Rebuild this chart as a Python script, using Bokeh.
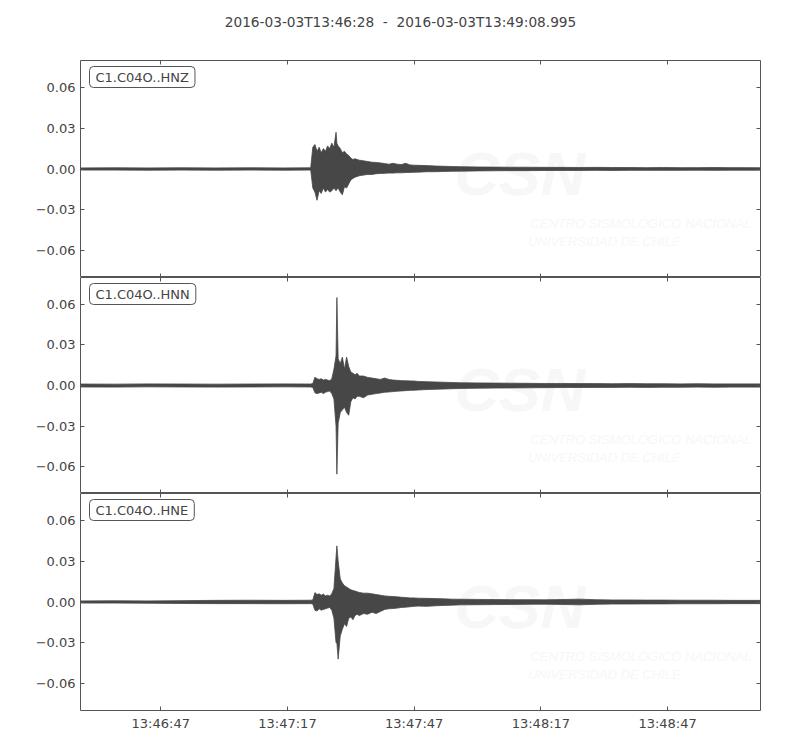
from bokeh.plotting import figure
from bokeh.layouts import column
from bokeh.models import Range1d, FixedTicker, LinearAxis, Label
from bokeh.embed import file_html
from bokeh.resources import INLINE

title_text = "2016-03-03T13:46:28  -  2016-03-03T13:49:08.995"
channels = ["C1.C04O..HNZ", "C1.C04O..HNN", "C1.C04O..HNE"]
duration = 160.995  # seconds after 13:46:28
x_tick_values = [19, 49, 79, 109, 139]
x_tick_labels = ["13:46:47", "13:47:17", "13:47:47", "13:48:17", "13:48:47"]
y_tick_values = [-0.06, -0.03, 0.0, 0.03, 0.06]
y_tick_labels = ["\u22120.06", "\u22120.03", "0.00", "0.03", "0.06"]
y_limit = 0.0798

# envelope sample times (s after start)
t_env = [0, 8, 16, 24, 32, 40, 48, 54.5,
         55.0, 55.5, 56.0, 56.5, 57.0, 57.5, 58.0, 58.5, 59.0, 59.5, 60.0, 60.5, 60.7, 61.0,
         61.5, 62.0, 62.5, 63.0, 63.5, 64.0, 64.5, 65.0, 65.5, 66.0,
         67, 68, 69, 70, 71, 72, 73, 74, 75, 76, 77, 78, 79, 80,
         82, 84, 86, 88, 90,
         94, 98, 102, 106, 110, 114, 118, 122, 126, 130, 134, 138, 142, 146, 150, 154, 158, 160.995]

z_upper = [0.0008, 0.0009, 0.0008, 0.0009, 0.0008, 0.0009, 0.0008, 0.0009,
           0.016, 0.018, 0.013, 0.016, 0.012, 0.015, 0.013, 0.017, 0.015, 0.019, 0.016, 0.027,
           0.019, 0.017,
           0.015, 0.012, 0.013, 0.011, 0.010, 0.008, 0.007, 0.0075, 0.007, 0.0065,
           0.006, 0.0055, 0.005, 0.0048, 0.0045, 0.004, 0.0035, 0.0042, 0.0035, 0.0033, 0.0042, 0.003, 0.0028, 0.0027,
           0.0025, 0.0022, 0.002, 0.0018, 0.0017,
           0.0015, 0.0014, 0.0013, 0.0013, 0.0012, 0.0012, 0.0011, 0.0012, 0.0011, 0.0011, 0.001, 0.0011, 0.001, 0.001, 0.0011, 0.001, 0.001,
           0.0009]
z_lower = [-0.0008, -0.0008, -0.0009, -0.0008, -0.0009, -0.0008, -0.0009, -0.0008,
           -0.014, -0.017, -0.023, -0.016, -0.018, -0.014, -0.017, -0.015, -0.017, -0.016, -0.014, -0.016,
           -0.015, -0.014,
           -0.017, -0.019, -0.013, -0.014, -0.011, -0.008, -0.007, -0.006, -0.0055, -0.005,
           -0.0045, -0.004, -0.004, -0.0035, -0.0033, -0.0032, -0.003, -0.003, -0.0028, -0.0028, -0.0026, -0.0025, -0.0024, -0.0023,
           -0.002, -0.002, -0.0018, -0.0017, -0.0016,
           -0.0014, -0.0013, -0.0012, -0.0012, -0.0011, -0.0011, -0.0011, -0.001, -0.0011, -0.001, -0.001, -0.001, -0.001, -0.0009, -0.001, -0.0009, -0.0009,
           -0.0009]

n_upper = [0.0011, 0.001, 0.0012, 0.0011, 0.001, 0.0011, 0.0012, 0.0011,
           0.0015, 0.0061, 0.005, 0.0045, 0.005, 0.004, 0.0045, 0.004, 0.0035, 0.005, 0.012, 0.022,
           0.065, 0.020,
           0.016, 0.021, 0.012, 0.021, 0.014, 0.010, 0.009, 0.008, 0.009, 0.007,
           0.007, 0.006, 0.0055, 0.005, 0.0045, 0.0055, 0.0045, 0.004, 0.0038, 0.0036, 0.0035, 0.0034, 0.0033, 0.003,
           0.0028, 0.0026, 0.0024, 0.0022, 0.002,
           0.0019, 0.0018, 0.0017, 0.0016, 0.0015, 0.0015, 0.0014, 0.0014, 0.0013, 0.0014, 0.0013, 0.0013, 0.0012, 0.0013, 0.0012, 0.0012, 0.0012,
           0.0012]
n_lower = [-0.0011, -0.0012, -0.001, -0.0011, -0.0012, -0.0011, -0.001, -0.0011,
           -0.0015, -0.0054, -0.006, -0.0055, -0.005, -0.006, -0.005, -0.0045, -0.004, -0.006, -0.010, -0.030,
           -0.0655, -0.028,
           -0.020, -0.018, -0.016, -0.020, -0.022, -0.012, -0.009, -0.010, -0.008, -0.008,
           -0.009, -0.007, -0.0065, -0.006, -0.0055, -0.005, -0.0048, -0.0045, -0.0042, -0.004, -0.0038, -0.0036, -0.0035, -0.0033,
           -0.003, -0.0028, -0.0026, -0.0024, -0.0022,
           -0.002, -0.0019, -0.0018, -0.0017, -0.0016, -0.0015, -0.0015, -0.0014, -0.0014, -0.0013, -0.0014, -0.0013, -0.0013, -0.0012, -0.0013, -0.0012, -0.0012,
           -0.0012]

e_upper = [0.0008, 0.0009, 0.0008, 0.001, 0.0012, 0.0013, 0.0012, 0.0013,
           0.0015, 0.0069, 0.0055, 0.006, 0.005, 0.0058, 0.0045, 0.005, 0.0045, 0.006, 0.010, 0.033,
           0.0413, 0.030,
           0.017, 0.014, 0.012, 0.011, 0.010, 0.009, 0.0085, 0.008, 0.0075, 0.007,
           0.0065, 0.0065, 0.006, 0.0055, 0.005, 0.0045, 0.0042, 0.004, 0.0038, 0.0035, 0.0033, 0.003, 0.003, 0.0028,
           0.0027, 0.0025, 0.0023, 0.0021, 0.002,
           0.0019, 0.0018, 0.0017, 0.0017, 0.0016, 0.0018, 0.0021, 0.0017, 0.0015, 0.0015, 0.0014, 0.0014, 0.0013, 0.0013, 0.0013, 0.0012, 0.0012,
           0.0012]
e_lower = [-0.0008, -0.0008, -0.0009, -0.0011, -0.0012, -0.0012, -0.0013, -0.0012,
           -0.0015, -0.0061, -0.0066, -0.005, -0.006, -0.0055, -0.005, -0.0045, -0.004, -0.006, -0.012, -0.030,
           -0.030, -0.042,
           -0.025, -0.020, -0.016, -0.018, -0.012, -0.011, -0.013, -0.010, -0.009, -0.010,
           -0.0085, -0.009, -0.0075, -0.0085, -0.007, -0.0055, -0.005, -0.0048, -0.0045, -0.004, -0.0038, -0.0035, -0.0032, -0.003,
           -0.0032, -0.0028, -0.0025, -0.0023, -0.0021,
           -0.002, -0.0019, -0.0018, -0.0017, -0.0016, -0.0018, -0.0021, -0.0017, -0.0015, -0.0015, -0.0014, -0.0014, -0.0013, -0.0013, -0.0013, -0.0012, -0.0012,
           -0.0012]

watermark_big = "CSN"
watermark_line1 = "CENTRO SISMOLÓGICO NACIONAL"
watermark_line2 = "UNIVERSIDAD DE CHILE"

traces = [(z_upper, z_lower), (n_upper, n_lower), (e_upper, e_lower)]
for u, l in traces:
    assert len(u) == len(t_env) and len(l) == len(t_env)

FONT = "DejaVu Sans"
TXT = "#444444"
SPINE = "#555555"
TRACE = "#474747"
WM = "#f7f7f7"

LEFT = 80
RIGHT = 32
WIDTH = 792
frame_heights = [217, 216, 217]
x_range = Range1d(0, duration)


def style_axis(ax, labels):
    ax.major_tick_in = 4
    ax.major_tick_out = 0
    ax.minor_tick_in = 0
    ax.minor_tick_out = 0
    ax.major_tick_line_color = SPINE
    ax.axis_line_color = None
    ax.major_label_text_font = FONT
    ax.major_label_text_font_size = "13px"
    ax.major_label_text_color = TXT
    ax.major_label_standoff = 5
    if not labels:
        ax.major_label_text_font_size = "0px"
        ax.major_label_text_alpha = 0


# title strip (its frame is aligned with the panels' frames by the column layout)
head = figure(width=WIDTH, height=60, x_axis_location=None, y_axis_location=None,
              toolbar_location=None, output_backend="svg",
              min_border_left=LEFT, min_border_right=RIGHT,
              min_border_top=0, min_border_bottom=0)
head.outline_line_color = None
head.grid.grid_line_color = None
# keep the double spaces visible in SVG text
shown_title = title_text.replace("  ", "\u00a0 ")
head.add_layout(Label(x=400 - LEFT, y=39, x_units="screen", y_units="screen",
                      text=shown_title, text_font=FONT, text_font_size="13.7px",
                      text_color=TXT, text_align="center", text_baseline="middle"))

figs = [head]
for i, (name, (up, lo)) in enumerate(zip(channels, traces)):
    fh = frame_heights[i]
    bottom = 30 if i == 2 else 0
    p = figure(width=WIDTH, height=fh + bottom, x_range=x_range,
               y_range=Range1d(-y_limit, y_limit),
               x_axis_location=None, y_axis_location=None,
               toolbar_location=None, output_backend="svg",
               min_border_left=LEFT, min_border_right=RIGHT,
               min_border_top=0, min_border_bottom=bottom)
    p.grid.grid_line_color = None
    p.outline_line_color = SPINE
    p.outline_line_width = 1
    p.background_fill_color = "white"
    p.border_fill_color = "white"

    yticker = FixedTicker(ticks=y_tick_values)
    xticker = FixedTicker(ticks=x_tick_values)
    y_over = {float(v): s for v, s in zip(y_tick_values, y_tick_labels)}
    x_over = {int(v): s for v, s in zip(x_tick_values, x_tick_labels)}

    left = LinearAxis(ticker=yticker, major_label_overrides=y_over)
    style_axis(left, True)
    p.add_layout(left, "left")

    right = LinearAxis(ticker=yticker, fixed_location=duration)
    style_axis(right, False)
    p.add_layout(right, "right")

    above = LinearAxis(ticker=xticker, fixed_location=y_limit)
    style_axis(above, False)
    p.add_layout(above, "above")

    if i == 2:
        below = LinearAxis(ticker=xticker, major_label_overrides=x_over)
        style_axis(below, True)
    else:
        below = LinearAxis(ticker=xticker, fixed_location=-y_limit)
        style_axis(below, False)
    p.add_layout(below, "below")

    # faint watermark
    p.add_layout(Label(x=88.5, y=-0.0287, text=watermark_big, text_font="Liberation Sans",
                       text_font_style="bold italic", text_font_size="62px",
                       text_color=WM, level="underlay"))
    p.add_layout(Label(x=106.5, y=-0.0457, text=watermark_line1, text_font="Liberation Sans",
                       text_font_style="italic", text_font_size="13px",
                       text_color=WM, level="underlay"))
    p.add_layout(Label(x=106.0, y=-0.059, text=watermark_line2, text_font="Liberation Sans",
                       text_font_style="italic", text_font_size="13px",
                       text_color=WM, level="underlay"))

    p.varea(x=t_env, y1=lo, y2=up, fill_color=TRACE)
    p.line(t_env, up, line_color=TRACE, line_width=0.8)
    p.line(t_env, lo, line_color=TRACE, line_width=0.8)

    p.add_layout(Label(x=9, y=fh - 6, x_units="screen", y_units="screen", text=name,
                       text_font=FONT, text_font_size="13px", text_color=TXT,
                       text_align="left", text_baseline="top",
                       background_fill_color="white", border_line_color=SPINE,
                       border_line_width=1, border_radius=4,
                       padding=dict(left=6, right=6, top=3, bottom=3)))
    figs.append(p)

layout = column(*figs, spacing=0)
open("out.html", "w").write(file_html(layout, INLINE))
